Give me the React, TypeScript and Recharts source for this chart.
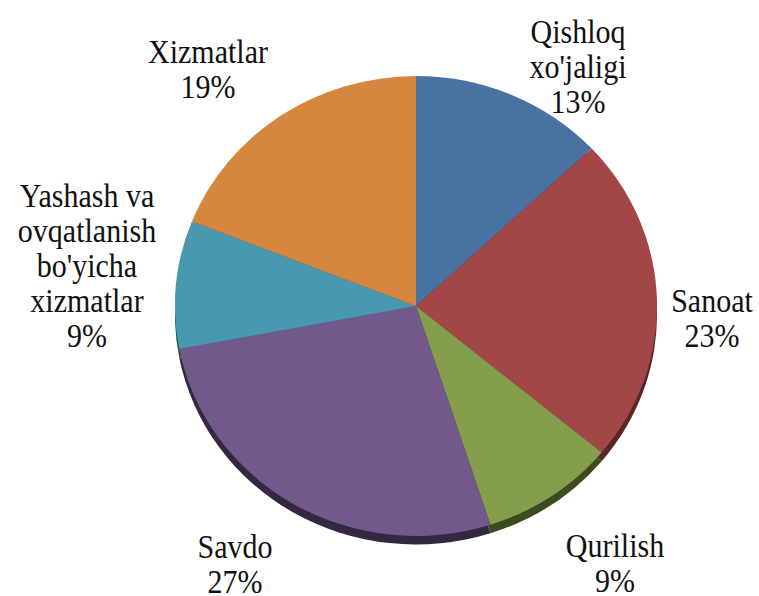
import { PieChart, Pie, Cell } from 'recharts';

// sector names, shares (%) and the label lines under each
const sectors = ["Qishloq xo'jaligi", 'Sanoat', 'Qurilish', 'Savdo', "Yashash va ovqatlanish bo'yicha xizmatlar", 'Xizmatlar'];
const shares = [13, 23, 9, 27, 9, 19];
const labelLines = [
  ['Qishloq', "xo'jaligi"],
  ['Sanoat'],
  ['Qurilish'],
  ['Savdo'],
  ['Yashash va', 'ovqatlanish', "bo'yicha", 'xizmatlar'],
  ['Xizmatlar'],
];

const COLORS = ['#4872A2', '#A24646', '#839F4C', '#715A8B', '#4899AF', '#D6873F'];
const SHADOWS = ['#27405d', '#5a2525', '#3b4a1f', '#322842', '#23505c', '#7a4a20'];

// label anchor: centre x, first baseline y
const labelAnchors = [
  { x: 578, y: 43 },
  { x: 712, y: 312 },
  { x: 615, y: 557 },
  { x: 235, y: 558 },
  { x: 87, y: 207 },
  { x: 208, y: 63 },
];

const CX = 416;
const CY = 306;
const R = 241;
const SQUASH = 0.954; // pie face is slightly flattened (tilted look)
const STRETCH = 1.1; // glyphs in the picture are a bit tall
const LINE_PRE = 32; // line height before the vertical stretch (~35px on screen)
const FONT = "'Liberation Serif', 'Times New Roman', serif";

const pieData = sectors.map((name, i) => ({ name, value: shares[i] }));

export default function App() {
  return (
    <div
      style={{
        position: 'absolute',
        left: 0,
        top: 0,
        width: 759,
        height: 596,
        background: '#fff',
        overflow: 'hidden',
      }}
    >
      <div style={{ transform: `scaleY(${SQUASH})`, transformOrigin: `${CX}px ${CY}px` }}>
        <PieChart width={759} height={640} margin={{ top: 0, right: 0, bottom: 0, left: 0 }}>
          {/* dark rim under the pie */}
          <Pie
            data={pieData}
            dataKey="value"
            nameKey="name"
            cx={CX}
            cy={CY + 9}
            outerRadius={R}
            startAngle={90}
            endAngle={-270}
            isAnimationActive={false}
            label={false}
            labelLine={false}
          >
            {pieData.map((entry, index) => (
              <Cell key={`sh-${index}`} fill={SHADOWS[index]} stroke="none" />
            ))}
          </Pie>
          <Pie
            data={pieData}
            dataKey="value"
            nameKey="name"
            cx={CX}
            cy={CY}
            outerRadius={R}
            startAngle={90}
            endAngle={-270}
            isAnimationActive={false}
            label={false}
            labelLine={false}
          >
            {pieData.map((entry, index) => (
              <Cell key={`cell-${index}`} fill={COLORS[index]} stroke="none" />
            ))}
          </Pie>
        </PieChart>
      </div>

      {/* category labels */}
      {pieData.map((entry, i) => {
        const a = labelAnchors[i];
        const lines = [...labelLines[i], `${shares[i]}%`];
        // baseline sits ~26px below the line top at 30px / 32px line height
        const top = a.y - 26.1 * STRETCH;
        return (
          <div
            key={`lbl-${i}`}
            style={{
              position: 'absolute',
              left: a.x - 150,
              top,
              width: 300,
              textAlign: 'center',
              fontFamily: FONT,
              fontSize: 30,
              lineHeight: `${LINE_PRE}px`,
              color: '#111',
              whiteSpace: 'nowrap',
              transform: `scaleY(${STRETCH})`,
              transformOrigin: 'top',
            }}
          >
            {lines.map((t, j) => (
              <div key={j}>{t}</div>
            ))}
          </div>
        );
      })}
    </div>
  );
}
